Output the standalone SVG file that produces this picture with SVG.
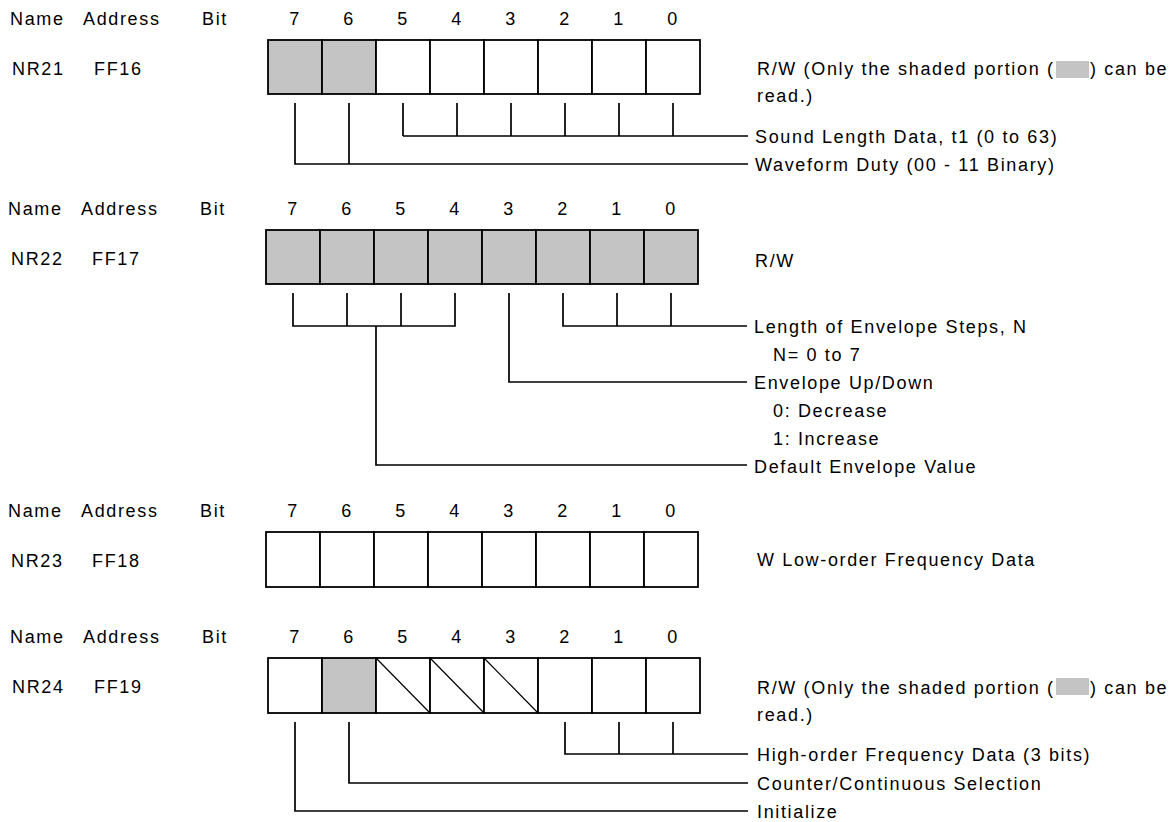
<svg xmlns="http://www.w3.org/2000/svg" width="1174" height="822" viewBox="0 0 1174 822">
<style>
.t{font-family:"Liberation Sans",Arial,sans-serif;font-size:18px;letter-spacing:1.65px;fill:#000}
.c{text-anchor:middle}
.cell{fill:#fff;stroke:#000;stroke-width:1.8}
.sh{fill:#c4c4c4;stroke:#000;stroke-width:1.8}
.diag{stroke:#000;stroke-width:1.2}
.ln{fill:none;stroke:#000;stroke-width:1.7}
.key{fill:#c4c4c4}
</style>
<rect width="1174" height="822" fill="#fff"/>

<!-- Row 1 NR21 -->
<g id="hdr1">
<text class="t" x="10" y="25">Name</text><text class="t" x="83" y="25">Address</text><text class="t" x="202" y="25">Bit</text>
<text class="t c" x="295" y="25">7</text><text class="t c" x="349" y="25">6</text><text class="t c" x="403" y="25">5</text><text class="t c" x="457" y="25">4</text>
<text class="t c" x="511" y="25">3</text><text class="t c" x="565" y="25">2</text><text class="t c" x="619" y="25">1</text><text class="t c" x="673" y="25">0</text>
</g>
<g id="nr21">
<text class="t" x="12" y="75">NR21</text><text class="t" x="94" y="75">FF16</text>
<rect class="sh" x="268" y="40" width="54" height="54"/><rect class="sh" x="322" y="40" width="54" height="54"/>
<rect class="cell" x="376" y="40" width="54" height="54"/><rect class="cell" x="430" y="40" width="54" height="54"/>
<rect class="cell" x="484" y="40" width="54" height="54"/><rect class="cell" x="538" y="40" width="54" height="54"/>
<rect class="cell" x="592" y="40" width="54" height="54"/><rect class="cell" x="646" y="40" width="54" height="54"/>
</g>
<g id="nr21-access">
<text class="t" x="757" y="75">R/W (Only the shaded portion (</text>
<rect class="key" x="1056" y="61" width="33" height="17"/>
<text class="t" x="1090" y="75">) can be</text>
<text class="t" x="757" y="102">read.)</text>
</g>
<g id="nr21-len"><text class="t" x="755" y="143">Sound Length Data, t1 (0 to 63)</text></g>
<g id="nr21-duty"><text class="t" x="755" y="171">Waveform Duty (00 - 11 Binary)</text></g>

<!-- Row 2 NR22 -->
<g id="hdr2">
<text class="t" x="8" y="215">Name</text><text class="t" x="81" y="215">Address</text><text class="t" x="200" y="215">Bit</text>
<text class="t c" x="293" y="215">7</text><text class="t c" x="347" y="215">6</text><text class="t c" x="401" y="215">5</text><text class="t c" x="455" y="215">4</text>
<text class="t c" x="509" y="215">3</text><text class="t c" x="563" y="215">2</text><text class="t c" x="617" y="215">1</text><text class="t c" x="671" y="215">0</text>
</g>
<g id="nr22">
<text class="t" x="11" y="265">NR22</text><text class="t" x="92" y="265">FF17</text>
<rect class="sh" x="266" y="230" width="54" height="54"/><rect class="sh" x="320" y="230" width="54" height="54"/>
<rect class="sh" x="374" y="230" width="54" height="54"/><rect class="sh" x="428" y="230" width="54" height="54"/>
<rect class="sh" x="482" y="230" width="54" height="54"/><rect class="sh" x="536" y="230" width="54" height="54"/>
<rect class="sh" x="590" y="230" width="54" height="54"/><rect class="sh" x="644" y="230" width="54" height="54"/>
</g>
<g id="nr22-access"><text class="t" x="755" y="267">R/W</text></g>
<g id="nr22-steps">
<text class="t" x="754" y="333">Length of Envelope Steps, N</text>
<text class="t" x="773" y="361">N= 0 to 7</text>
</g>
<g id="nr22-dir">
<text class="t" x="754" y="389">Envelope Up/Down</text>
<text class="t" x="773" y="417">0: Decrease</text>
<text class="t" x="773" y="445">1: Increase</text>
</g>
<g id="nr22-init"><text class="t" x="754" y="473">Default Envelope Value</text></g>

<!-- Row 3 NR23 -->
<g id="hdr3">
<text class="t" x="8" y="517">Name</text><text class="t" x="81" y="517">Address</text><text class="t" x="200" y="517">Bit</text>
<text class="t c" x="293" y="517">7</text><text class="t c" x="347" y="517">6</text><text class="t c" x="401" y="517">5</text><text class="t c" x="455" y="517">4</text>
<text class="t c" x="509" y="517">3</text><text class="t c" x="563" y="517">2</text><text class="t c" x="617" y="517">1</text><text class="t c" x="671" y="517">0</text>
</g>
<g id="nr23">
<text class="t" x="11" y="567">NR23</text><text class="t" x="92" y="567">FF18</text>
<rect class="cell" x="266" y="532" width="54" height="55"/><rect class="cell" x="320" y="532" width="54" height="55"/>
<rect class="cell" x="374" y="532" width="54" height="55"/><rect class="cell" x="428" y="532" width="54" height="55"/>
<rect class="cell" x="482" y="532" width="54" height="55"/><rect class="cell" x="536" y="532" width="54" height="55"/>
<rect class="cell" x="590" y="532" width="54" height="55"/><rect class="cell" x="644" y="532" width="54" height="55"/>
</g>
<g id="nr23-access"><text class="t" x="757" y="566">W  Low-order Frequency Data</text></g>

<!-- Row 4 NR24 -->
<g id="hdr4">
<text class="t" x="10" y="643">Name</text><text class="t" x="83" y="643">Address</text><text class="t" x="202" y="643">Bit</text>
<text class="t c" x="295" y="643">7</text><text class="t c" x="349" y="643">6</text><text class="t c" x="403" y="643">5</text><text class="t c" x="457" y="643">4</text>
<text class="t c" x="511" y="643">3</text><text class="t c" x="565" y="643">2</text><text class="t c" x="619" y="643">1</text><text class="t c" x="673" y="643">0</text>
</g>
<g id="nr24">
<text class="t" x="12" y="693">NR24</text><text class="t" x="94" y="693">FF19</text>
<rect class="cell" x="268" y="658" width="54" height="55"/><rect class="sh" x="322" y="658" width="54" height="55"/>
<rect class="cell" x="376" y="658" width="54" height="55"/><rect class="cell" x="430" y="658" width="54" height="55"/>
<rect class="cell" x="484" y="658" width="54" height="55"/><rect class="cell" x="538" y="658" width="54" height="55"/>
<rect class="cell" x="592" y="658" width="54" height="55"/><rect class="cell" x="646" y="658" width="54" height="55"/>
<line class="diag" x1="376" y1="658" x2="430" y2="713"/>
<line class="diag" x1="430" y1="658" x2="484" y2="713"/>
<line class="diag" x1="484" y1="658" x2="538" y2="713"/>
</g>
<g id="nr24-access">
<text class="t" x="757" y="694">R/W (Only the shaded portion (</text>
<rect class="key" x="1056" y="678" width="33" height="17"/>
<text class="t" x="1090" y="694">) can be</text>
<text class="t" x="757" y="721">read.)</text>
</g>
<g id="nr24-freq"><text class="t" x="757" y="761">High-order Frequency Data (3 bits)</text></g>
<g id="nr24-cc"><text class="t" x="757" y="790">Counter/Continuous Selection</text></g>
<g id="nr24-init"><text class="t" x="757" y="818">Initialize</text></g>

<g id="connectors">
<!-- NR21 -->
<path class="ln" d="M403 103V136M457 103V136M511 103V136M565 103V136M619 103V136M673 103V136M403 136H748"/>
<path class="ln" d="M295 103V164H748M349 103V164"/>
<!-- NR22 -->
<path class="ln" d="M293 293V326H455V293M347 293V326M401 293V326M376 326V465H747"/>
<path class="ln" d="M509 293V382H747"/>
<path class="ln" d="M563 293V326H747M617 293V326M671 293V326"/>
<!-- NR24 -->
<path class="ln" d="M565 722V754H748M619 722V754M673 722V754"/>
<path class="ln" d="M349 722V783H748"/>
<path class="ln" d="M295 722V811H748"/>
</g>
</svg>
